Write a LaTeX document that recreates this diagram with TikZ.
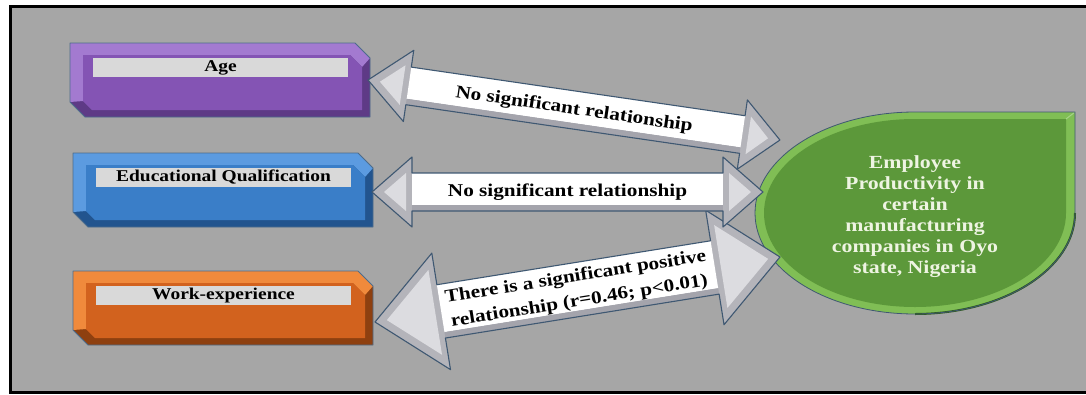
\documentclass[tikz,border=0pt]{standalone}
\usepackage{fontspec}
\newfontfamily\gar[FakeStretch=1.18]{Liberation Serif}
\usetikzlibrary{calc}
\definecolor{bggray}{HTML}{A6A6A6}
\definecolor{stripgray}{HTML}{D9D9D9}
\definecolor{purL}{HTML}{A37AD0}\definecolor{purM}{HTML}{8454B4}\definecolor{purD}{HTML}{5E3A86}
\definecolor{bluL}{HTML}{5C9BE0}\definecolor{bluM}{HTML}{3A7EC8}\definecolor{bluD}{HTML}{22548E}
\definecolor{orgL}{HTML}{F08A3C}\definecolor{orgM}{HTML}{D2621E}\definecolor{orgD}{HTML}{8E4010}
\definecolor{grnL}{HTML}{80BE55}\definecolor{grnM}{HTML}{5C983A}\definecolor{grnD}{HTML}{2E5A1E}
\definecolor{arrline}{HTML}{3F5872}
\definecolor{arrgray}{HTML}{B4B4BA}
\definecolor{arrlight}{HTML}{DCDCE0}
\definecolor{shaftshade}{HTML}{A4A4AC}
\definecolor{boxline}{HTML}{4C6C8C}
\definecolor{prodtext}{HTML}{EEF4E2}
% bevelled box: top-left corner (#1,#2), colours light #3, face #4, dark #5
\newcommand\bevbox[5]{%
 \begin{scope}[shift={(#1,#2)}]
  \fill[#5] (0,0) -- (285,0) -- (300,15) -- (300,74) -- (15,74) -- (0,59) -- cycle;
  \fill[#3] (0,59) -- (0,0) -- (285,0) -- (300,15) -- (292,24) -- (280,12) -- (13,12) -- (13,58) -- cycle;
  \fill[#4] (13,12) -- (280,12) -- (292,24) -- (292,67) -- (22,67) -- (13,58) -- cycle;
  \draw[boxline, line width=0.8pt, line join=round] (0,0) -- (285,0) -- (300,15) -- (300,74) -- (15,74) -- (0,59) -- cycle;
 \end{scope}}
% block arrow: length #1, left head length #2, half width #3, right head length #4, half width #5, shaft half width #6
\newcommand\barrow[6]{%
  \fill[arrgray] (0,0) -- (#2,-#3) -- (#2,-#6) -- ({#1-#4},-#6) -- ({#1-#4},-#5) -- (#1,0) -- ({#1-#4},#5) -- ({#1-#4},#6) -- (#2,#6) -- (#2,#3) -- cycle;
  \fill[arrlight] (12,0) -- ({#2-6},{-#3+16}) -- ({#2-6},{#3-16}) -- cycle;
  \fill[arrlight] ({#1-12},0) -- ({#1-#4+6},{-#5+16}) -- ({#1-#4+6},{#5-16}) -- cycle;
  \fill[white] (#2,-#6) rectangle ({#1-#4},{#6-6});
  \fill[shaftshade] (#2,{#6-6}) rectangle ({#1-#4},#6);
  \draw[arrline, line width=1.1pt, line join=round] (0,0) -- (#2,-#3) -- (#2,-#6) -- ({#1-#4},-#6) -- ({#1-#4},-#5) -- (#1,0) -- ({#1-#4},#5) -- ({#1-#4},#6) -- (#2,#6) -- (#2,#3) -- cycle;}
\begin{document}
\begin{tikzpicture}[x=1pt,y=-1pt,
  strip/.style={fill=stripgray, minimum width=255pt, minimum height=19pt, inner sep=0pt,
    font=\fontsize{16.5}{18}\selectfont\gar\bfseries, text=black},
  rellabel/.style={inner sep=0pt, align=center, font=\fontsize{18}{24.5}\selectfont\gar\bfseries, text=black},
  prodlabel/.style={inner sep=0pt, align=center, font=\fontsize{18.5}{21}\selectfont\gar\bfseries, text=prodtext}]
\useasboundingbox (0,0) rectangle (1086,394);
\fill[white] (0,0) rectangle (1086,394);
\fill[bggray] (10,6) rectangle (1086,393);
\draw[black, line width=3pt] (1090,6) -- (10,6) -- (10,392.5) -- (1090,392.5);

% left boxes
\bevbox{70}{43}{purL}{purM}{purD}
\node[strip] (age) at (220.5,67.5) {Age};
\bevbox{73}{153}{bluL}{bluM}{bluD}
\node[strip] (edu) at (223.5,177.5) {Educational Qualification};
\bevbox{73}{271}{orgL}{orgM}{orgD}
\node[strip] (work) at (223.5,295.5) {Work-experience};

% teardrop
\fill[grnL] (755,213) arc[start angle=180,end angle=270,x radius=160,y radius=101] -- (1075,112) -- (1075,213)
  arc[start angle=0,end angle=90,x radius=160,y radius=101] arc[start angle=90,end angle=180,x radius=160,y radius=101] -- cycle;
\fill[grnM] (764,213) arc[start angle=180,end angle=270,x radius=151,y radius=94] -- (1066,119) -- (1066,213)
  arc[start angle=0,end angle=90,x radius=151,y radius=94] arc[start angle=90,end angle=180,x radius=151,y radius=94] -- cycle;
\draw[grnD, line width=2pt] (1075,213) arc[start angle=0,end angle=90,x radius=160,y radius=101];
\draw[grnL!70!white, line width=1pt] (1066,119) -- (1075,112);
\draw[arrline, line width=0.8pt] (755,213) arc[start angle=180,end angle=270,x radius=160,y radius=101] -- (1075,112) -- (1075,213)
  arc[start angle=0,end angle=90,x radius=160,y radius=101] arc[start angle=90,end angle=180,x radius=160,y radius=101] -- cycle;
\node[prodlabel] (prod) at (915,217) {Employee\\Productivity in\\certain\\manufacturing\\companies in Oyo\\state, Nigeria};

% arrows
\coordinate (t3) at (375,322);
\begin{scope}[shift={(t3)}, rotate=9.12]
  \barrow{410.2}{67}{59}{66}{58}{27}
\end{scope}
\coordinate (t2) at (372,192);
\begin{scope}[shift={(t2)}]
  \barrow{391}{40}{35}{40}{35}{19}
\end{scope}
\coordinate (t1) at (368,80);
\begin{scope}[shift={(t1)}, rotate=-8.29]
  \barrow{416.3}{41}{36}{38}{35}{19}
\end{scope}

\node[rellabel, rotate=-8.29] (r1) at (574,110) {No significant relationship};
\node[rellabel] (r2) at (567.5,192) {No significant relationship};
\node[rellabel, rotate=9.12] (r3) at (577.5,289.5) {There is a significant positive\\relationship (r=0.46; p<0.01)};
\end{tikzpicture}
\end{document}
